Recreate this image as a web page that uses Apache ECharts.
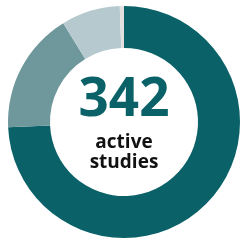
<!DOCTYPE html>
<html>
<head>
<meta charset="utf-8">
<script src="https://cdn.jsdelivr.net/npm/echarts@6/dist/echarts.min.js"></script>
<style>
  html, body { margin: 0; padding: 0; background: #fff; }
  #chart { width: 242px; height: 240px; }
</style>
</head>
<body>
<div id="chart"></div>
<script>
// study status breakdown
const categories = ['Group A', 'Group B', 'Group C', 'Group D'];
const studyCounts = [254, 58, 28, 2];
const sliceColors = ['#0a6268', '#6f989c', '#b6c9cf', '#e2dfde'];
const totalLabel = '342';
const subLabel = ['active', 'studies'];

const chart = echarts.init(document.getElementById('chart'));
chart.setOption({
  animation: false,
  series: [
    {
      type: 'pie',
      center: [124, 122],
      radius: [74, 116],
      startAngle: 90,
      clockwise: true,
      silent: true,
      label: { show: false },
      labelLine: { show: false },
      data: categories.map((name, i) => ({
        name: name,
        value: studyCounts[i],
        itemStyle: { color: sliceColors[i] }
      }))
    }
  ],
  graphic: [
    {
      type: 'text',
      x: 124,
      y: 74,
      style: {
        text: totalLabel,
        align: 'center',
        fontFamily: 'Open Sans',
        fontWeight: 'bold',
        fontSize: 53,
        fill: '#0a6268'
      }
    },
    {
      type: 'text',
      x: 124,
      y: 133,
      style: {
        text: subLabel.join('\n'),
        align: 'center',
        fontFamily: 'Open Sans',
        fontWeight: 'bold',
        fontSize: 19,
        lineHeight: 20,
        fill: '#111'
      }
    }
  ]
});
</script>
</body>
</html>
